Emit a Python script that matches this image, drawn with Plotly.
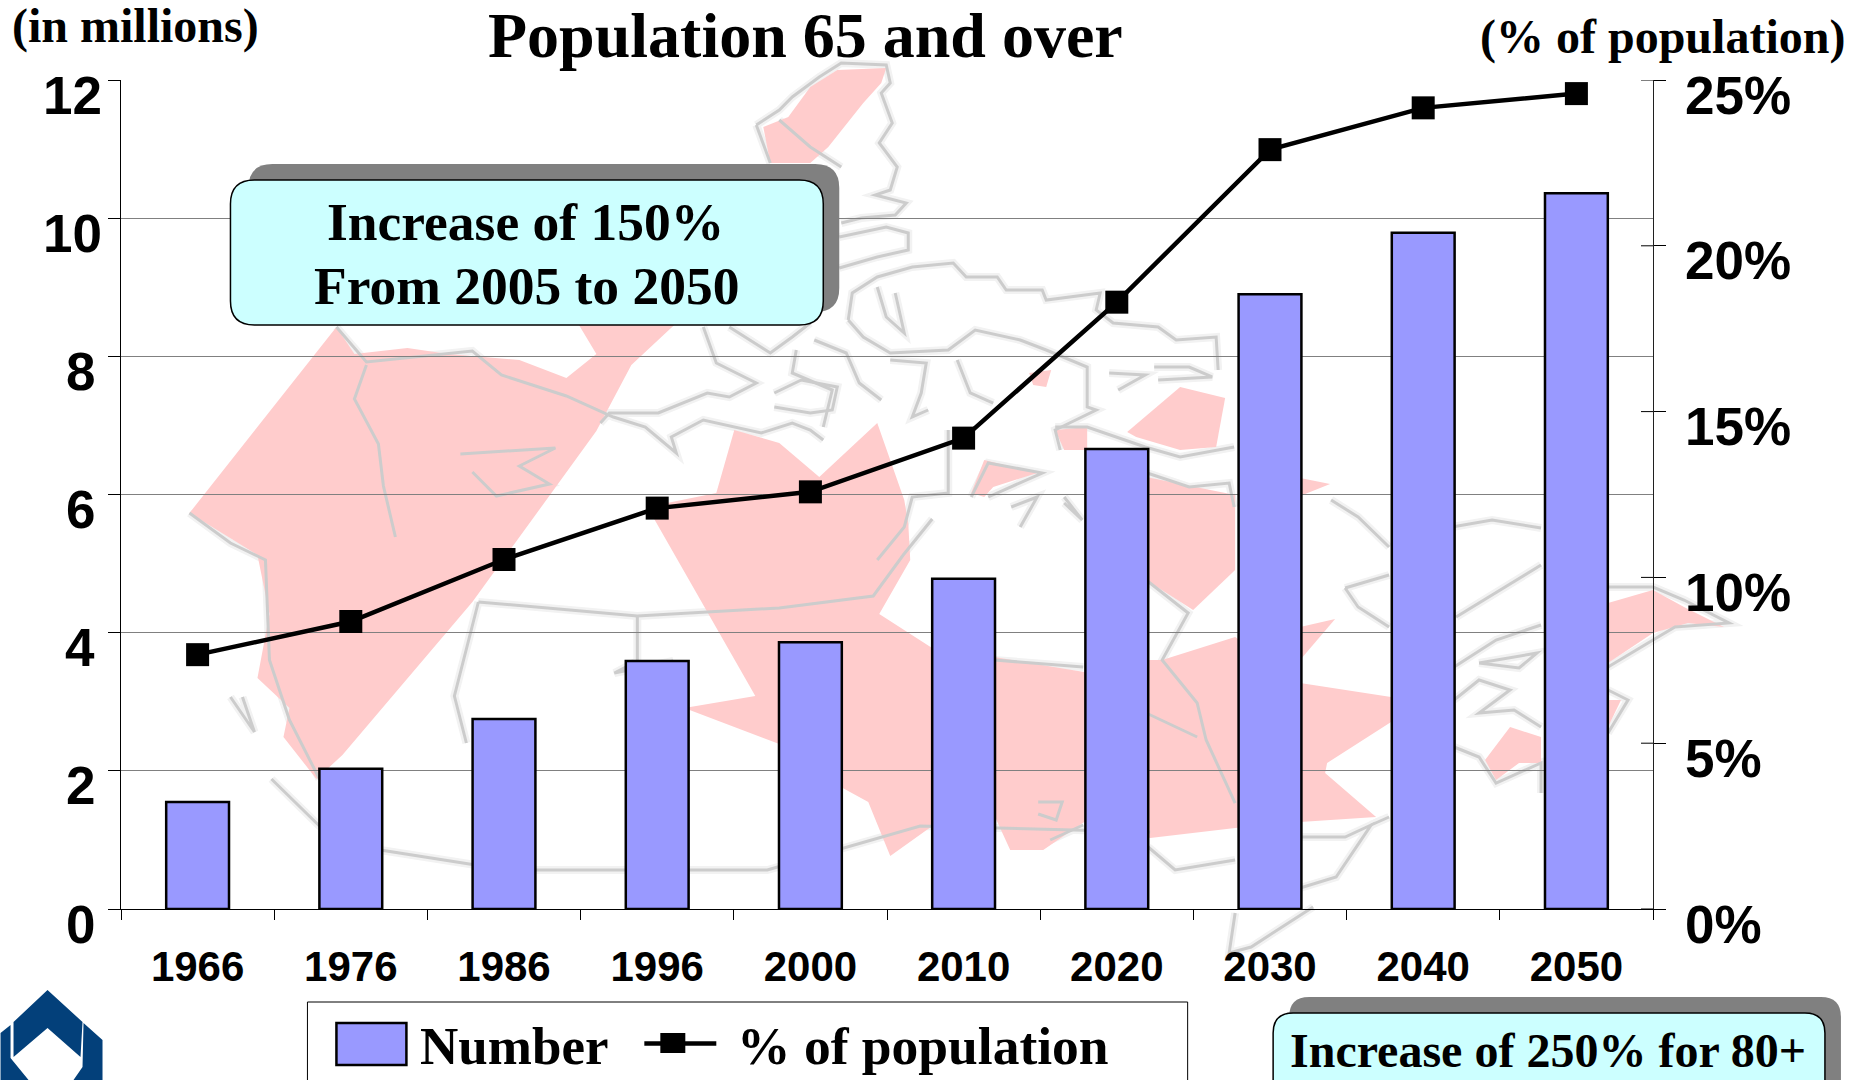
import plotly.graph_objects as go

W, H = 1850, 1080
L, R, T, B = 120.5, 1653, 80, 909

years = ["1966", "1976", "1986", "1996", "2000", "2010", "2020", "2030", "2040", "2050"]
number_millions = [1.55, 2.03, 2.75, 3.59, 3.86, 4.78, 6.66, 8.90, 9.79, 10.36]
pct_population = [7.67, 8.67, 10.54, 12.09, 12.58, 14.2, 18.3, 22.9, 24.16, 24.59]
left_ticks = [0, 2, 4, 6, 8, 10, 12]
right_ticks = [0, 5, 10, 15, 20, 25]

# Background map of Canada, in page pixels
pink_regions = [
    [(336,327),(189,513),(257,555),(269,614),(257,678),(289,708),(283,737),(316,779),(342,755),(472,602),(596,431),(631,365),(675,324),(578,324),(596,354),(566,378),(519,360),(448,354),(407,348),(354,354)],
    [(837,70),(886,68),(881,83),(863,103),(828,147),(810,163),(770,163),(763,127),(788,117),(810,87)],
    [(734,430),(779,443),(819,477),(877,423),(904,500),(908,523),(910,560),(879,614),(935,650),(994,657),(1084,672),(1146,660),(1162,660),(1235,637),(1300,683),(1391,697),(1391,722),(1327,763),(1325,773),(1376,817),(1300,822),(1235,828),(1150,838),(1084,822),(1043,850),(1010,850),(994,815),(932,826),(890,856),(868,802),(826,779),(779,744),(684,708),(755,696),(647,507),(716,493)],
    [(1146,477),(1235,495),(1235,570),(1193,610),(1146,580)],
    [(1300,627),(1335,619),(1300,660)],
    [(1300,478),(1330,484),(1300,496)],
    [(1127,432),(1180,387),(1225,398),(1216,447),(1180,450),(1136,437)],
    [(1055,430),(1087,427),(1087,450),(1064,450)],
    [(971,493),(984,460),(1037,473),(993,487),(984,497)],
    [(1029,373),(1051,370),(1046,387),(1033,385)],
    [(1608,603),(1653,590),(1684,607),(1724,627),(1688,623),(1653,633),(1608,663)],
    [(1485,760),(1510,727),(1541,737),(1541,763),(1519,763),(1496,780)],
    [(1608,700),(1621,700),(1608,727)],
]
outline_lines = [
    [(756,125),(779,110),(792,97),(819,77),(841,63),(886,65),(890,83),(881,93),(892,123),(879,143),(897,167),(890,190),(875,195),(906,203),(895,215),(861,218),(841,223)],
    [(756,125),(770,163)], [(779,120),(810,147),(841,167)],
    [(839,237),(886,227),(908,233),(908,250),(877,257),(839,268)],
    [(848,320),(852,293),(877,277),(912,267),(953,263),(966,277),(997,277),(1006,290),(1042,290),(1046,300),(1100,293),(1096,310),(1113,323),(1158,327),(1176,340),(1216,337),(1218,370)],
    [(848,320),(863,337),(890,353),(948,350),(975,330),(1020,340),(1046,350),(1087,367),(1087,407),(1096,410),(1055,430),(1060,450)],
    [(877,287),(886,317),(904,333),(895,293)],
    [(703,327),(716,363),(756,383),(729,397),(707,393),(658,413),(609,413),(600,423)],
    [(729,327),(770,353),(792,337),(810,323)],
    [(814,340),(846,353),(859,383),(881,400)],
    [(796,350),(792,373),(832,390),(823,427)],
    [(890,360),(926,363),(921,393),(912,417),(928,410)],
    [(957,360),(970,393),(993,403)],
    [(336,327),(366,362),(472,351),(501,375),(566,396),(613,417),(645,427),(676,453),(671,437),(703,420),(761,433),(792,423),(810,430),(823,440)],
    [(774,393),(801,380),(837,387),(832,410),(810,413),(774,407)],
    [(948,430),(948,493),(912,497),(904,527),(877,560)],
    [(971,497),(988,463),(1042,473),(988,497)],
    [(1011,507),(1037,497),(1020,527)],
    [(1064,503),(1082,520),(1064,497)],
    [(1055,427),(1087,427),(1145,447),(1180,457),(1234,447)],
    [(1147,473),(1189,487),(1229,483),(1234,507)],
    [(1109,373),(1145,375),(1118,390)],
    [(1154,367),(1189,367),(1212,377),(1158,380)],
    [(1146,580),(1188,613),(1162,660),(1197,703),(1206,740),(1235,803)],
    [(1146,713),(1197,737)],
    [(1331,500),(1358,517),(1389,547)],
    [(1452,527),(1492,520),(1541,528)],
    [(1345,588),(1389,575)], [(1345,588),(1358,607),(1389,627)],
    [(1456,617),(1541,565)],
    [(1454,667),(1496,640),(1541,625)],
    [(1479,663),(1537,653),(1519,668),(1479,663)],
    [(1454,700),(1479,680),(1510,690),(1479,713),(1514,710),(1541,727)],
    [(1454,747),(1479,757),(1496,783),(1541,763),(1541,793)],
    [(1608,587),(1653,587),(1684,600),(1729,623),(1675,627),(1653,640),(1608,667)],
    [(1608,690),(1628,700),(1608,733)],
    [(1300,837),(1345,837),(1371,825),(1336,877),(1300,888)], [(1389,817),(1371,825)],
    [(1148,847),(1175,870),(1235,860)],
    [(1235,913),(1229,953),(1251,947),(1313,907)],
    [(1050,840),(1083,825)], [(994,660),(1083,667)],
    [(366,365),(354,399),(378,444),(383,486),(395,537)],
    [(189,513),(230,543),(265,560),(269,660),(289,720),(319,779)],
    [(230,697),(254,732),(242,697)],
    [(271,779),(319,826),(380,850),(507,870),(767,870),(920,826),(1150,832)],
    [(478,602),(637,616),(779,608),(873,596),(903,555),(932,519)],
    [(478,602),(454,696),(466,743)],
    [(637,616),(637,661),(614,673),(673,661)],
    [(460,454),(555,448),(519,466),(549,484),(496,496),(472,472)],
    [(1038,802),(1062,802),(1056,820),(1038,814)],
]
logo_parts = [
    [(47,990),(82,1022),(80,1057),(47,1028),(13,1057),(13,1022)],
    [(83,1023),(102,1040),(102,1080),(73,1080),(82,1067)],
    [(10,1025),(10,1058),(28,1080),(0,1080),(0,1033)],
]

def fx(x): return (x - L) / (R - L)
def fy(y): return (B - y) / (B - T)

def path(points, close=True):
    parts = [f"{'M' if i == 0 else 'L'}{fx(x):.5f},{fy(y):.5f}" for i, (x, y) in enumerate(points)]
    return " ".join(parts) + (" Z" if close else "")

def rounded(x0, y0, x1, y1, r):
    pts = [f"M{fx(x0+r):.5f},{fy(y0):.5f}", f"L{fx(x1-r):.5f},{fy(y0):.5f}",
           f"Q{fx(x1):.5f},{fy(y0):.5f} {fx(x1):.5f},{fy(y0+r):.5f}", f"L{fx(x1):.5f},{fy(y1-r):.5f}",
           f"Q{fx(x1):.5f},{fy(y1):.5f} {fx(x1-r):.5f},{fy(y1):.5f}", f"L{fx(x0+r):.5f},{fy(y1):.5f}",
           f"Q{fx(x0):.5f},{fy(y1):.5f} {fx(x0):.5f},{fy(y1-r):.5f}", f"L{fx(x0):.5f},{fy(y0+r):.5f}",
           f"Q{fx(x0):.5f},{fy(y0):.5f} {fx(x0+r):.5f},{fy(y0):.5f} Z"]
    return " ".join(pts)

shapes = []
for line in outline_lines:
    shapes.append(dict(type="path", xref="paper", yref="paper", layer="below", path=path(line, close=False),
                       line=dict(color="#F2F2F2", width=8)))
for poly in pink_regions:
    shapes.append(dict(type="path", xref="paper", yref="paper", layer="below", path=path(poly),
                       fillcolor="#FFCCCC", line=dict(width=0)))
for line in outline_lines:
    shapes.append(dict(type="path", xref="paper", yref="paper", layer="below", path=path(line, close=False),
                       line=dict(color="#CCCCCC", width=3)))

for t in right_ticks:
    shapes.append(dict(type="line", xref="paper", yref="y2", x0=fx(R-12), x1=fx(R), y0=t, y1=t,
                       line=dict(color="black", width=1)))

def above(kind, **kw):
    d = dict(type=kind, xref="paper", yref="paper", layer="above")
    d.update(kw)
    shapes.append(d)

above("path", path=rounded(248, 164, 839, 312, 24), fillcolor="#808080", line=dict(width=0))
above("path", path=rounded(230, 180, 823, 325, 24), fillcolor="#CCFFFF", line=dict(color="black", width=1.5))
above("path", path=rounded(1289, 997, 1841, 1100, 20), fillcolor="#808080", line=dict(width=0))
above("path", path=rounded(1273, 1013, 1825, 1100, 20), fillcolor="#CCFFFF", line=dict(color="black", width=1.5))
above("rect", x0=fx(307), x1=fx(1187.5), y0=fy(1002), y1=fy(1100), fillcolor="white", line=dict(color="black", width=1))
above("rect", x0=fx(336), x1=fx(406), y0=fy(1023), y1=fy(1065), fillcolor="#9999FF", line=dict(color="black", width=2.5))
above("line", x0=fx(644), x1=fx(716), y0=fy(1043.5), y1=fy(1043.5), line=dict(color="black", width=4.5))
above("rect", x0=fx(660), x1=fx(685), y0=fy(1033), y1=fy(1053), fillcolor="black", line=dict(width=0))
for part in logo_parts:
    above("path", path=path(part), fillcolor="#03407A", line=dict(width=0))

SERIF = "Liberation Serif"
SANS = "Liberation Sans"
def label(text, x, y, size, anchor="center"):
    return dict(text=f"<b>{text}</b>", xref="paper", yref="paper", x=fx(x), y=fy(y), xanchor=anchor, yanchor="middle",
                showarrow=False, font=dict(family=SERIF, size=size, color="black"))

annotations = [
    label("Population 65 and over", 805, 36, 64),
    label("(in millions)", 9, 26, 48, "left"),
    label("(% of population)", 1847, 37, 48, "right"),
    label("Increase of 150%", 525, 222, 53.5),
    label("From 2005 to 2050", 526, 286, 53.5),
    label("Increase of 250% for 80+", 1288, 1050, 48, "left"),
    label("Number", 418, 1046, 53, "left"),
    label("% of population", 735, 1046, 53.5, "left"),
]
for t in left_ticks:
    annotations.append(dict(text=f"<b>{t}</b>", xref="paper", yref="y", x=fx(103 if t >= 10 else 96), y=t,
                            xanchor="right", yanchor="middle", yshift=-15, showarrow=False,
                            font=dict(family=SANS, size=53, color="black")))
for t in right_ticks:
    annotations.append(dict(text=f"<b>{t}%</b>", xref="paper", yref="y2", x=fx(1683), y=t,
                            xanchor="left", yanchor="middle", yshift=-15, showarrow=False,
                            font=dict(family=SANS, size=53, color="black")))

fig = go.Figure()
fig.add_bar(x=years, y=number_millions, name="Number", width=0.41,
            marker=dict(color="#9999FF", line=dict(color="black", width=2.5)))
fig.add_scatter(x=years, y=pct_population, name="% of population", yaxis="y2", mode="lines+markers",
                line=dict(color="black", width=4.5), marker=dict(symbol="square", size=23, color="black"))

fig.update_layout(
    width=W, height=H, showlegend=False, paper_bgcolor="white", plot_bgcolor="rgba(0,0,0,0)",
    margin=dict(l=L, r=W-R, t=T, b=H-B, pad=0),
    xaxis=dict(type="category", range=[-0.5, 9.5], tickson="boundaries", ticks="outside", ticklen=10, tickcolor="black",
               showline=True, linecolor="black", showgrid=False, ticklabelstandoff=21,
               tickfont=dict(family=SANS, size=42, color="black", weight=700)),
    yaxis=dict(range=[0, 12], tickvals=left_ticks, showticklabels=False, ticks="outside", ticklen=12, tickcolor="black",
               showline=True, linecolor="black", gridcolor="#808080", gridwidth=1, zeroline=False),
    yaxis2=dict(range=[0, 25], tickvals=right_ticks, showticklabels=False, overlaying="y", side="right",
                ticks="outside", ticklen=12, tickcolor="black", showline=True, linecolor="#202020",
                showgrid=False, zeroline=False),
    shapes=shapes, annotations=annotations,
)
fig.write_html("out.html", config={"displayModeBar": False},
               post_script="document.body.style.margin='0';document.documentElement.style.overflow='hidden';")
